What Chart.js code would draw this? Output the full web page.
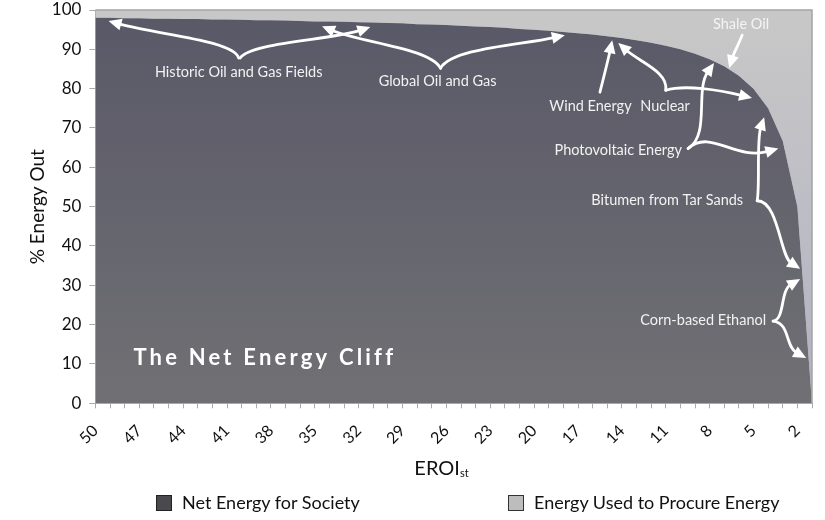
<!DOCTYPE html>
<html>
<head>
<meta charset="utf-8">
<script src="https://cdn.jsdelivr.net/npm/chart.js@4.4.1/dist/chart.umd.min.js"></script>
<style>
  body { margin: 0; background: #fff; font-family: Lato, "Open Sans", sans-serif; }
  #wrap { position: relative; width: 825px; height: 520px; }
  #xtitle { position: absolute; top: 455px; left: 83px; width: 717px; text-align: center; font-size: 20px; color: #111; }
  #xtitle sub { font-size: 11px; vertical-align: -2px; }
  .leg { position: absolute; top: 491px; font-size: 18px; color: #111; white-space: nowrap; }
  .leg i { display: inline-block; width: 16px; height: 16px; vertical-align: -2px; margin-right: 10px; box-sizing: border-box; }
</style>
</head>
<body>
<div id="wrap">
  <canvas id="cliff" width="825" height="520"></canvas>
  <div id="xtitle">EROI<sub>st</sub></div>
  <div class="leg" style="left:156px"><i style="background:#4a4a4e;border:1px solid #222"></i>Net Energy for Society</div>
  <div class="leg" style="left:508px"><i style="background:#bdbdbd;border:1px solid #333"></i>Energy Used to Procure Energy</div>
</div>
<script>
// EROI categories, high to low
const eroiLabels = [50, 49, 48, 47, 46, 45, 44, 43, 42, 41, 40, 39, 38, 37, 36, 35, 34, 33, 32, 31,
  30, 29, 28, 27, 26, 25, 24, 23, 22, 21, 20, 19, 18, 17, 16, 15, 14, 13, 12, 11,
  10, 9, 8, 7, 6, 5, 4, 3, 2, 1];

// % of energy out that is net energy for society
const netEnergy = [98.0, 98.0, 97.9, 97.9, 97.8, 97.8, 97.7, 97.7, 97.6, 97.6,
  97.5, 97.4, 97.4, 97.3, 97.2, 97.1, 97.1, 97.0, 96.9, 96.8,
  96.7, 96.6, 96.4, 96.3, 96.2, 96.0, 95.8, 95.7, 95.5, 95.2,
  95.0, 94.7, 94.4, 94.1, 93.8, 93.3, 92.9, 92.3, 91.7, 90.9,
  90.0, 88.9, 87.5, 85.7, 83.3, 80.0, 75.0, 66.7, 50.0, 0];

const labelStep = 3;

// labels and arrows, positioned as [EROI, %]
const notes = [
  { text: 'Historic Oil and Gas Fields', at: [40.2, 84.2] },
  { text: 'Global Oil and Gas', at: [26.6, 81.8] },
  { text: 'Wind Energy', at: [16.15, 75.6] },
  { text: 'Nuclear', at: [11.05, 75.4] },
  { text: 'Shale Oil', at: [5.85, 96.4], color: '#f4f4f4' },
  { text: 'Photovoltaic Energy', at: [14.25, 64.4] },
  { text: 'Bitumen from Tar Sands', at: [10.9, 51.6] },
  { text: 'Corn-based Ethanol', at: [8.44, 21.0] }
];

const arrows = [
  { from: [40.2, 87.8], c1: [40.6, 92.3], c2: [45.6, 93.6], to: [49.1, 97.2] },
  { from: [40.1, 87.8], c1: [39.4, 91.8], c2: [33.9, 92.3], to: [31.2, 95.7] },
  { from: [26.4, 85.2], c1: [27.1, 90.3], c2: [31.9, 91.8], to: [34.5, 95.9] },
  { from: [26.4, 85.2], c1: [25.6, 90.3], c2: [20.95, 91.1], to: [17.9, 93.6] },
  { from: [15.5, 79.1], c1: [15.2, 83.5], c2: [14.9, 88.0], to: [14.66, 92.3] },
  { from: [11.0, 79.6], c1: [10.8, 84.2], c2: [12.75, 86.7], to: [14.25, 91.6] },
  { from: [11.0, 79.6], c1: [9.67, 81.1], c2: [7.28, 79.6], to: [5.1, 77.6] },
  { from: [5.78, 93.6], c1: [6.0, 91.5], c2: [6.4, 88.5], to: [6.66, 85.2] },
  { from: [9.47, 64.8], c1: [7.96, 68.1], c2: [9.0, 79.6], to: [7.7, 86.5] },
  { from: [9.47, 64.8], c1: [7.96, 69.9], c2: [6.25, 61.7], to: [3.3, 64.8] },
  { from: [4.75, 51.5], c1: [4.55, 55.4], c2: [4.8, 66.8], to: [4.27, 72.7] },
  { from: [4.75, 51.5], c1: [3.3, 51.5], c2: [3.18, 37.5], to: [1.81, 34.2] },
  { from: [3.66, 20.9], c1: [2.84, 21.4], c2: [3.18, 28.6], to: [1.81, 31.6] },
  { from: [3.66, 20.9], c1: [2.5, 20.4], c2: [2.84, 14.5], to: [1.4, 11.5] }
];

const cliffTitle = { text: 'The Net Energy Cliff', at: [47.4, 11.6] };

const usedEnergy = netEnergy.map(v => 100 - v);

function vGradient(chart, top, bottom) {
  const a = chart.chartArea;
  if (!a) return top;
  const g = chart.ctx.createLinearGradient(0, a.top, 0, a.bottom);
  g.addColorStop(0, top);
  g.addColorStop(1, bottom);
  return g;
}

const annotations = {
  id: 'annotations',
  afterDatasetsDraw(chart) {
    const { ctx, chartArea: a, scales: { x, y } } = chart;
    const px = p => [x.getPixelForValue(eroiLabels[0] - p[0]), y.getPixelForValue(p[1])];

    ctx.save();
    // frame on top and right
    ctx.strokeStyle = '#a4a4a4';
    ctx.lineWidth = 1.5;
    ctx.beginPath();
    ctx.moveTo(a.left, a.top);
    ctx.lineTo(a.right, a.top);
    ctx.lineTo(a.right, a.bottom);
    ctx.stroke();

    ctx.strokeStyle = '#fff';
    ctx.fillStyle = '#fff';
    ctx.lineWidth = 2.8;
    ctx.lineCap = 'round';
    arrows.forEach(ar => {
      const f = px(ar.from), c1 = px(ar.c1), c2 = px(ar.c2), t = px(ar.to);
      const ang = Math.atan2(t[1] - c2[1], t[0] - c2[0]);
      const len = 13, half = 6;
      const bx = t[0] - Math.cos(ang) * len, by = t[1] - Math.sin(ang) * len;
      ctx.beginPath();
      ctx.moveTo(f[0], f[1]);
      ctx.bezierCurveTo(c1[0], c1[1], c2[0], c2[1], bx + Math.cos(ang) * 2, by + Math.sin(ang) * 2);
      ctx.stroke();
      ctx.beginPath();
      ctx.moveTo(t[0], t[1]);
      ctx.lineTo(bx - Math.sin(ang) * half, by + Math.cos(ang) * half);
      ctx.lineTo(bx + Math.sin(ang) * half, by - Math.cos(ang) * half);
      ctx.closePath();
      ctx.fill();
    });

    ctx.font = '14.5px Lato, "Open Sans", sans-serif';
    ctx.textAlign = 'center';
    ctx.textBaseline = 'middle';
    notes.forEach(n => {
      const p = px(n.at);
      ctx.fillStyle = n.color || '#f2f2f2';
      ctx.fillText(n.text, p[0], p[1]);
    });

    const tp = px(cliffTitle.at);
    ctx.font = 'bold 22px Lato, "Open Sans", sans-serif';
    ctx.letterSpacing = '3.2px';
    ctx.textAlign = 'left';
    ctx.fillStyle = '#fff';
    ctx.fillText(cliffTitle.text, tp[0], tp[1]);
    ctx.restore();
  }
};

new Chart(document.getElementById('cliff'), {
  type: 'line',
  data: {
    labels: eroiLabels,
    datasets: [
      {
        label: 'Net Energy for Society',
        data: netEnergy,
        fill: 'origin',
        borderWidth: 0,
        pointRadius: 0,
        tension: 0,
        backgroundColor: c => vGradient(c.chart, '#595867', '#707074')
      },
      {
        label: 'Energy Used to Procure Energy',
        data: usedEnergy,
        fill: '-1',
        borderWidth: 0,
        pointRadius: 0,
        tension: 0,
        backgroundColor: c => vGradient(c.chart, '#c8c8c8', '#b2b2c2')
      }
    ]
  },
  options: {
    responsive: false,
    animation: false,
    layout: { padding: { top: 10, right: 13, left: 26, bottom: 59 } },
    plugins: { legend: { display: false }, tooltip: { enabled: false } },
    scales: {
      x: {
        offset: false,
        afterFit: s => { s.paddingLeft = 0; s.paddingRight = 0; },
        grid: { drawOnChartArea: false, drawTicks: true, tickLength: 5, color: '#aaa' },
        border: { display: true, color: '#aaa' },
        ticks: {
          autoSkip: false,
          minRotation: 45,
          maxRotation: 45,
          padding: 13,
          color: '#111',
          font: { family: 'Lato, "Open Sans", sans-serif', size: 16 },
          callback: function (value, index) {
            return index % labelStep === 0 ? this.getLabelForValue(value) : '';
          }
        }
      },
      y: {
        stacked: true,
        min: 0,
        max: 100,
        afterFit: s => { s.paddingTop = 0; s.paddingBottom = 0; },
        grid: { drawOnChartArea: false, drawTicks: true, tickLength: 6, color: '#aaa' },
        border: { display: true, color: '#aaa' },
        ticks: {
          stepSize: 10,
          padding: 8,
          color: '#111',
          font: { family: 'Lato, "Open Sans", sans-serif', size: 17 }
        },
        title: {
          display: true,
          text: '% Energy Out',
          color: '#111',
          padding: { top: 0, bottom: -5 },
          font: { family: 'Lato, "Open Sans", sans-serif', size: 19 }
        }
      }
    }
  },
  plugins: [annotations]
});
</script>
</body>
</html>
